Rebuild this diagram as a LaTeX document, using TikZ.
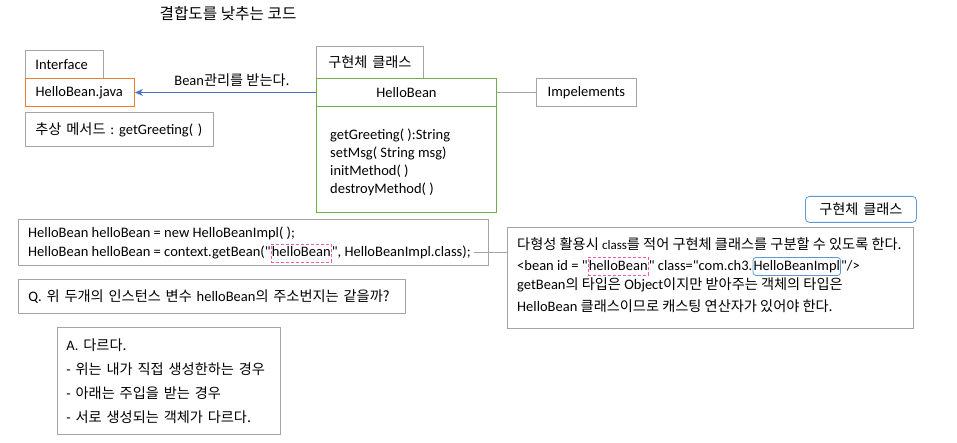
\documentclass[tikz,border=0pt]{standalone}
\usepackage{fontspec}
\setmainfont{Carlito}[Ligatures=TeXOff]
\newfontfamily\kr[Scale=0.98]{Noto Sans CJK KR}
\usetikzlibrary{arrows.meta}
\definecolor{bgray}{HTML}{A5A5A5}
\definecolor{orng}{HTML}{ED7D31}
\definecolor{grn}{HTML}{70AD47}
\definecolor{blu}{HTML}{4472C4}
\definecolor{lblu}{HTML}{5B9BD5}
\definecolor{pnk}{HTML}{F25AAE}
\tikzset{
  box/.style={draw=bgray, line width=0.8pt, inner sep=0pt, anchor=north west, align=left},
  txt/.style={inner sep=0pt, anchor=base west},
  gline/.style={draw=bgray, line width=0.8pt},
  mark pink/.style={draw=pnk, dashed, dash pattern=on 3pt off 2pt, line width=0.8pt, inner xsep=0.6pt, inner ysep=1pt, text height=11.5pt, text depth=4.5pt},
  mark blue/.style={draw=lblu, rounded corners=3pt, line width=0.8pt, inner xsep=0.6pt, inner ysep=1pt, text height=11.5pt, text depth=4.5pt},
}
\begin{document}
\frenchspacing
\begin{tikzpicture}[x=1pt, y=-1pt, font=\fontsize{14.5}{18}\selectfont]
\useasboundingbox[fill=white] (0,0) rectangle (957,443);

% title
\node (title) at (228,14) {\fontsize{16}{18}\selectfont\kr 결합도를 낮추는 코드};

% interface side
\node[box, minimum width=78pt, minimum height=28pt, inner xsep=10pt, text width=58pt] (iface) at (25,50) {Interface};
\node[box, draw=orng, line width=1pt, minimum width=109pt, minimum height=28pt, inner xsep=10pt, text width=89pt] (hbj) at (25,78) {HelloBean.java};
\node[box, minimum width=188pt, minimum height=34pt, inner xsep=10pt, text width=168pt] (abs) at (25,112) {{\kr 추상 메서드} : getGreeting( )};

% implementation class
\node[box, minimum width=107pt, minimum height=32pt, align=center, text width=107pt] (impltag) at (316,46) {\kr 구현체 클래스};
\node[box, draw=grn, line width=1pt, minimum width=180pt, minimum height=28pt, align=center, text width=180pt] (hbh) at (316,78) {HelloBean};
\node[box, draw=grn, line width=1pt, minimum width=180pt, minimum height=106pt] (hbb) at (316,106) {};
\node[inner sep=0pt, anchor=north west, align=left] (hbt) at (330,129) {getGreeting( ):String\\setMsg( String msg)\\initMethod( )\\destroyMethod( )};
\node[box, minimum width=100pt, minimum height=28pt, align=center, text width=100pt] (impl) at (536,78) {Impelements};

\draw[blu, line width=1pt, -{Stealth[length=8pt,width=7pt]}] (hbh.west) -- (hbj.east);
\node (lbl) at (232,80) {Bean{\kr 관리를 받는다.}};
\draw[gline] (hbh.east) -- (impl.west);

% code box
\node[box, minimum width=470pt, minimum height=46pt] (code) at (18,219) {};
\node[txt] (c1) at (28,238) {HelloBean helloBean = new HelloBeanImpl( );};
\node[txt] (c2a) at (28,257) {HelloBean helloBean = context.getBean("};
\node[txt, mark pink] (c2b) at (c2a.base east) {helloBean};
\node[txt] (c2c) at (c2b.base east) {", HelloBeanImpl.class);};

% question / answer
\node[box, minimum width=387pt, minimum height=34pt, inner xsep=10pt, text width=367pt] (q) at (18,279) {Q. {\kr 위 두개의 인스턴스 변수} helloBean{\kr 의 주소번지는 같을까?}};
\node[box, minimum width=223pt, minimum height=107pt, inner xsep=9pt, text width=205pt, font=\fontsize{14.5}{24}\selectfont] (ans) at (57,327) {A. {\kr 다르다.}\\- {\kr 위는 내가 직접 생성한하는 경우}\\- {\kr 아래는 주입을 받는 경우}\\- {\kr 서로 생성되는 객체가 다르다.}};

% right explanation
\node[box, draw=lblu, rounded corners=4pt, minimum width=111pt, minimum height=26pt, align=center, text width=111pt] (impltag2) at (805,196) {\kr 구현체 클래스};
\node[box, minimum width=406pt, minimum height=101pt] (rbox) at (507,227) {};
\node[txt] (r1) at (517,250) {{\kr 다형성 활용시} {\fontsize{13}{15}\selectfont class}{\kr 를 적어 구현체 클래스를 구분할 수 있도록 한다.}};
\node[txt] (r2a) at (517,270) {<bean id = "};
\node[txt, mark pink] (r2b) at (r2a.base east) {helloBean};
\node[txt] (r2c) at (r2b.base east) {" class="com.ch3.};
\node[txt, mark blue] (r2d) at (r2c.base east) {HelloBeanImpl};
\node[txt] (r2e) at (r2d.base east) {"/>};
\node[txt] (r3) at (517,290) {getBean{\kr 의 타입은} Object{\kr 이지만 받아주는 객체의 타입은}};
\node[txt] (r4) at (517,311) {HelloBean {\kr 클래스이므로 캐스팅 연산자가 있어야 한다.}};

\draw[gline] ([xshift=3pt]c2c.east) -- (c2c.east -| rbox.west);
\end{tikzpicture}
\end{document}
